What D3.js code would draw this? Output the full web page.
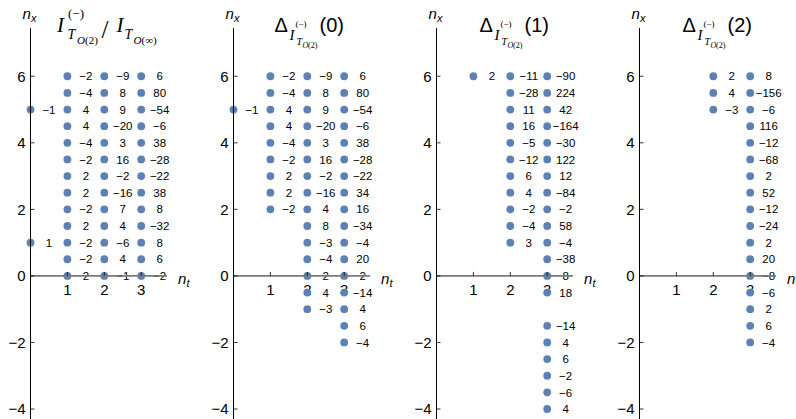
<!DOCTYPE html>
<html><head><meta charset="utf-8">
<script src="https://cdn.jsdelivr.net/npm/d3@7"></script>
<style>body{margin:0;background:#fff}svg{display:block}</style>
</head><body><svg id="c" width="796" height="419"></svg>
<script>
// n_x grid (top to bottom) that each column's values are aligned to
const nxGrid = [6,5.5,5,4.5,4,3.5,3,2.5,2,1.5,1,0.5,0,-0.5,-1,-1.5,-2,-2.5,-3,-3.5,-4];
const yTicks = [-4,-2,0,2,4,6];
const xTicks = [1,2,3];
const panelTitles = ["ratio","(0)","(1)","(2)"];

// Panel 1: I^(-)_{T_O(2)} / I_{T_O(inf)}
const ratioCol0 = [null,null,-1,null,null,null,null,null,null,null,1];
const ratioCol1 = [-2,-4,4,4,-4,-2,2,2,-2,2,-2,-2,2];
const ratioCol2 = [-9,8,9,-20,3,16,-2,-16,7,4,-6,4,-1];
const ratioCol3 = [6,80,-54,-6,38,-28,-22,38,8,-32,8,6,-2];
// Panel 2: Delta(0)
const delta0Col0 = [null,null,-1];
const delta0Col1 = [-2,-4,4,4,-4,-2,2,2,-2];
const delta0Col2 = [-9,8,9,-20,3,16,-2,-16,4,8,-3,-4,2,4,-3];
const delta0Col3 = [6,80,-54,-6,38,-28,-22,34,16,-34,-4,20,2,-14,4,6,-4];
// Panel 3: Delta(1)
const delta1Col1 = [2];
const delta1Col2 = [-11,-28,11,16,-5,-12,6,4,-2,-4,3];
const delta1Col3 = [-90,224,42,-164,-30,122,12,-84,-2,58,-4,-38,8,18,null,-14,4,6,-2,-6,4];
// Panel 4: Delta(2)
const delta2Col2 = [2,4,-3];
const delta2Col3 = [8,-156,-6,116,-12,-68,2,52,-12,-24,2,20,-8,-6,2,6,-4];

const panels = [
  [[0,ratioCol0],[1,ratioCol1],[2,ratioCol2],[3,ratioCol3]],
  [[0,delta0Col0],[1,delta0Col1],[2,delta0Col2],[3,delta0Col3]],
  [[1,delta1Col1],[2,delta1Col2],[3,delta1Col3]],
  [[2,delta2Col2],[3,delta2Col3]]
];

const svg = d3.select("#c");
const fmt = v => (v<0 ? "\u2212"+Math.abs(v) : String(v));
const SANS = "'Liberation Sans', Arial, sans-serif";
const SERIF = "'Liberation Serif', 'Times New Roman', serif";
const y = d3.scaleLinear().domain([-4.12, 7.45]).range([413, 28]);
const unitX = 36.9;
const ptColor = "#5E81B5";

panels.forEach((cols, pi) => {
  const x0 = 30.5 + pi*203;
  const x = d3.scaleLinear().domain([0, 3.7]).range([x0, x0 + 3.7*unitX]);
  const g = svg.append("g");

  // points data
  const pts = [];
  cols.forEach(([nt, vals]) => vals.forEach((v,i) => { if (v!==null) pts.push({nt, nx: nxGrid[i], v}); }));

  // y tick labels
  g.selectAll(".yl").data(yTicks).join("text")
    .attr("x", x(0)-5).attr("y", d => y(d)).attr("dy","0.36em")
    .attr("text-anchor","end").attr("font-family",SANS).attr("font-size",15)
    .text(fmt);
  // x tick labels
  g.selectAll(".xl").data(xTicks).join("text")
    .attr("x", d => x(d)).attr("y", y(0)+19)
    .attr("text-anchor","middle").attr("font-family",SANS).attr("font-size",15)
    .text(d => d);

  // value labels
  g.selectAll(".vl").data(pts).join("text")
    .attr("x", d => x(d.nt+0.5)).attr("y", d => y(d.nx)).attr("dy","0.36em")
    .attr("text-anchor","middle").attr("font-family",SANS).attr("font-size",11.5)
    .attr("fill","#000").text(d => fmt(d.v));

  // points
  g.selectAll(".pt").data(pts).join("circle")
    .attr("cx", d => x(d.nt)).attr("cy", d => y(d.nx)).attr("r", 3.9)
    .attr("fill", ptColor);

  // axes
  g.append("line").attr("x1", x(0)).attr("x2", x(3.7)).attr("y1", y(0)).attr("y2", y(0))
    .attr("stroke","#7a7a7a").attr("stroke-width",1.6);
  g.append("line").attr("x1", x(0)).attr("x2", x(0)).attr("y1", y(7.45)).attr("y2", 419)
    .attr("stroke","#000").attr("stroke-width",1);
  g.selectAll(".yt").data(yTicks).join("line")
    .attr("x1", x(0)).attr("x2", x(0)+4).attr("y1", d=>y(d)).attr("y2", d=>y(d))
    .attr("stroke","#000").attr("stroke-width",0.8);
  g.selectAll(".xt").data(xTicks).join("line")
    .attr("x1", d=>x(d)).attr("x2", d=>x(d)).attr("y1", y(0)).attr("y2", y(0)-4)
    .attr("stroke","#000").attr("stroke-width",0.8);

  // axis labels
  const nxl = g.append("text").attr("x", x(0)-1).attr("y", 19).attr("text-anchor","middle")
    .attr("font-family",SANS).attr("font-size",15);
  nxl.append("tspan").attr("font-style","italic").text("n");
  nxl.append("tspan").attr("font-style","italic").attr("font-size",11).attr("dy",3).text("x");
  const ntl = g.append("text").attr("x", x(4.0)).attr("y", y(0)+8)
    .attr("font-family",SANS).attr("font-size",15);
  ntl.append("tspan").attr("font-style","italic").text("n");
  ntl.append("tspan").attr("font-style","italic").attr("font-size",11).attr("dy",3).text("t");

  // titles
  const T = (tx, ty, txt, size, fam, ital) => g.append("text").attr("x", x0+tx).attr("y", ty)
    .attr("font-family", fam).attr("font-size", size).attr("font-style", ital ? "italic" : "normal").text(txt);
  if (pi === 0) {
    T(26.5, 32, "I", 21, SERIF, true);
    T(37.5, 18, "(\u2212)", 13, SERIF, false);
    T(37, 38.5, "T", 14, SERIF, true);
    T(46.5, 43.5, "O", 11, SERIF, true);
    T(54.5, 43.5, "(2)", 11, SERIF, false);
    T(71, 38, "/", 25, SERIF, false);
    T(86, 32, "I", 21, SERIF, true);
    T(94, 38.5, "T", 14, SERIF, true);
    T(103, 43.5, "O", 11, SERIF, true);
    T(111, 43.5, "(\u221E)", 11, SERIF, false);
  } else {
    const o = pi === 1 ? 41 : 43;
    T(o, 32, "\u0394", 20, SANS, false);
    T(o+15, 40, "I", 15, SERIF, true);
    T(o+21, 27, "(\u2212)", 9, SERIF, false);
    T(o+22, 45, "T", 10, SERIF, true);
    T(o+28, 47.5, "O", 8, SERIF, true);
    T(o+33.5, 47.5, "(2)", 8, SERIF, false);
    T(o+45, 32, panelTitles[pi], 20, SANS, false);
  }
});
</script></body></html>
